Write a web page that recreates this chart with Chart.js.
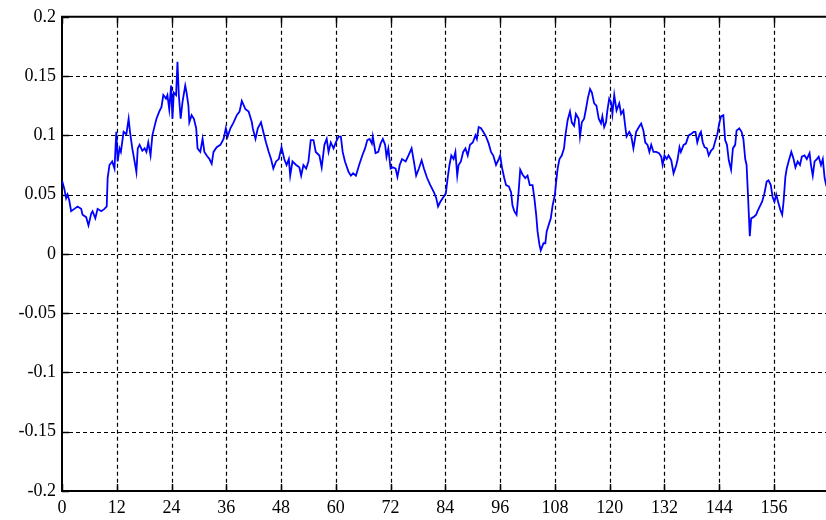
<!DOCTYPE html>
<html>
<head>
<meta charset="utf-8">
<script src="https://cdn.jsdelivr.net/npm/chart.js@4/dist/chart.umd.min.js"></script>
<style>
  html, body { margin: 0; padding: 0; background: #fff; }
  #wrap { width: 826px; height: 520px; }
</style>
</head>
<body>
<div id="wrap"><canvas id="c" width="826" height="520"></canvas></div>
<script>
// ---- data ----
const xTicks = [0, 12, 24, 36, 48, 60, 72, 84, 96, 108, 120, 132, 144, 156];
const yTicks = [-0.2, -0.15, -0.1, -0.05, 0, 0.05, 0.1, 0.15, 0.2];
const yTickLabels = ['-0.2', '-0.15', '-0.1', '-0.05', '0', '0.05', '0.1', '0.15', '0.2'];

const xs = [
  0, 0.5, 0.9, 1.2, 1.6, 2.0, 2.7, 3.4, 4.2, 4.5, 5.3, 5.8, 6.4, 6.7, 7.3, 7.8, 8.6, 9.3, 9.8,
  10.0, 10.4, 11.0, 11.5, 11.9, 12.2, 12.6, 12.9, 13.5, 14.1, 14.6, 14.9, 15.4, 15.9, 16.3, 16.6,
  17.0, 17.6, 18.1, 18.5, 18.9, 19.4, 19.8, 20.3, 20.7, 21.3, 21.8, 22.2, 22.8, 23.1, 23.5, 23.9,
  24.2, 24.5, 25.0, 25.3, 25.6, 26.0, 26.4, 27.0, 27.3, 27.7, 27.9, 28.4, 28.9, 29.4, 29.7, 30.3,
  30.8, 31.2, 31.7, 32.3, 32.8, 33.2, 33.9, 34.7, 35.4, 35.9, 36.3, 36.9, 37.6, 38.3, 38.9, 39.4,
  40.2, 40.9, 41.6, 41.8, 42.4, 42.9, 43.6, 44.1, 44.7, 45.3, 45.8, 46.3, 46.9, 47.5, 48.1, 48.7,
  49.2, 49.7, 50.0, 50.5, 51.3, 52.0, 52.4, 52.9, 53.5, 54.0, 54.5, 55.1, 55.6, 56.4, 56.9, 57.5,
  58.0, 58.4, 58.9, 59.5, 60.0, 60.6, 61.1, 61.5, 62.0, 62.8, 63.3, 63.8, 64.4, 65.1, 65.8, 66.4,
  66.9, 67.4, 67.9, 68.1, 68.7, 69.3, 69.8, 70.3, 70.8, 71.1, 71.5, 72.0, 72.5, 73.1, 73.5, 74.0,
  74.5, 75.3, 75.9, 76.6, 77.1, 77.6, 78.2, 78.8, 79.3, 80.0, 80.7, 81.5, 82.0, 82.4, 82.9, 83.4,
  84.1, 84.5, 84.9, 85.3, 85.8, 86.2, 86.6, 86.9, 87.4, 87.9, 88.4, 88.9, 89.4, 90.0, 90.6, 90.9,
  91.3, 91.8, 92.3, 92.9, 93.5, 94.0, 94.5, 95.1, 95.7, 96.0, 96.4, 96.9, 97.3, 97.9, 98.4, 98.7,
  99.1, 99.6, 100.0, 100.4, 100.9, 101.5, 102.0, 102.5, 103.1, 103.5, 103.9, 104.2, 104.6, 104.9,
  105.5, 105.9, 106.2, 106.6, 107.1, 107.5, 108.0, 108.2, 108.6, 109.0, 109.5, 110.0, 110.3, 110.8,
  111.3, 111.7, 112.2, 112.6, 113.2, 113.5, 113.9, 114.4, 114.8, 115.2, 115.7, 116.1, 116.6, 117.1,
  117.6, 118.1, 118.4, 118.8, 119.2, 119.5, 119.9, 120.3, 120.6, 121.0, 121.5, 122.1, 122.5, 123.0,
  123.4, 123.7, 124.3, 124.7, 125.2, 125.8, 126.4, 126.9, 127.4, 127.8, 128.3, 128.7, 129.1, 129.6,
  130.2, 130.8, 131.3, 131.6, 132.0, 132.5, 132.9, 133.5, 134.0, 134.6, 134.9, 135.3, 135.6, 136.2,
  136.7, 137.3, 137.8, 138.4, 138.8, 139.2, 139.7, 140.0, 140.4, 140.8, 141.3, 141.7, 142.2, 142.7,
  143.2, 143.6, 144.0, 144.4, 144.9, 145.3, 145.7, 146.1, 146.6, 147.0, 147.5, 147.8, 148.4, 148.9,
  149.3, 149.7, 150.0, 150.3, 150.7, 151.0, 151.5, 152.1, 152.4, 152.9, 153.4, 153.9, 154.4, 154.8,
  155.3, 155.7, 156.1, 156.5, 156.9, 157.4, 157.8, 158.1, 158.5, 158.8, 159.2, 159.8, 160.3, 160.7,
  161.2, 161.7, 162.1, 162.7, 163.2, 163.8, 164.1, 164.5, 164.9, 165.4, 165.8, 166.3, 166.7, 167.1,
  167.5
];
const ys = [
  0.062, 0.055, 0.047, 0.050, 0.045, 0.036, 0.038, 0.040, 0.038, 0.033, 0.031, 0.024, 0.034, 0.036, 0.030, 0.038, 0.036, 0.038, 0.040,
  0.064, 0.075, 0.078, 0.072, 0.103, 0.078, 0.089, 0.086, 0.103, 0.101, 0.114, 0.103, 0.089, 0.078, 0.069, 0.089,
  0.092, 0.087, 0.089, 0.086, 0.094, 0.083, 0.100, 0.108, 0.114, 0.120, 0.124, 0.134, 0.131, 0.134, 0.122, 0.142,
  0.114, 0.136, 0.134, 0.162, 0.134, 0.114, 0.128, 0.142, 0.136, 0.125, 0.111, 0.117, 0.114, 0.106, 0.089, 0.086,
  0.097, 0.086, 0.083, 0.080, 0.076, 0.086, 0.090, 0.092, 0.097, 0.106, 0.099, 0.106, 0.111, 0.117, 0.120, 0.129,
  0.122, 0.120, 0.111, 0.106, 0.097, 0.106, 0.111, 0.103, 0.094, 0.086, 0.080, 0.072, 0.078, 0.080, 0.090, 0.080,
  0.075, 0.080, 0.066, 0.078, 0.075, 0.073, 0.066, 0.075, 0.072, 0.078, 0.096, 0.096, 0.086, 0.083, 0.073, 0.092,
  0.097, 0.086, 0.094, 0.089, 0.094, 0.099, 0.099, 0.086, 0.078, 0.069, 0.066, 0.068, 0.066, 0.075, 0.083, 0.089,
  0.096, 0.097, 0.093, 0.099, 0.085, 0.086, 0.093, 0.097, 0.092, 0.082, 0.089, 0.072, 0.073, 0.072, 0.065, 0.075,
  0.080, 0.078, 0.083, 0.089, 0.078, 0.066, 0.072, 0.079, 0.072, 0.064, 0.058, 0.052, 0.047, 0.040, 0.044, 0.047,
  0.051, 0.064, 0.075, 0.083, 0.080, 0.086, 0.066, 0.075, 0.078, 0.086, 0.089, 0.083, 0.092, 0.094, 0.100, 0.097,
  0.107, 0.106, 0.103, 0.099, 0.093, 0.086, 0.083, 0.075, 0.080, 0.083, 0.073, 0.064, 0.058, 0.057, 0.052, 0.041,
  0.036, 0.033, 0.050, 0.071, 0.067, 0.064, 0.066, 0.058, 0.058, 0.047, 0.033, 0.019, 0.008, 0.003,
  0.009, 0.009, 0.019, 0.024, 0.030, 0.041, 0.050, 0.058, 0.072, 0.080, 0.083, 0.089, 0.100, 0.113,
  0.120, 0.111, 0.108, 0.118, 0.114, 0.099, 0.111, 0.114, 0.122, 0.131, 0.139, 0.136, 0.127, 0.125,
  0.114, 0.110, 0.116, 0.107, 0.111, 0.121, 0.131, 0.128, 0.118, 0.134, 0.121, 0.127, 0.118, 0.121,
  0.108, 0.099, 0.103, 0.100, 0.089, 0.103, 0.107, 0.110, 0.104, 0.094, 0.092, 0.086, 0.092, 0.086,
  0.086, 0.085, 0.082, 0.075, 0.083, 0.080, 0.083, 0.079, 0.068, 0.075, 0.080, 0.090, 0.086, 0.092,
  0.093, 0.100, 0.101, 0.103, 0.103, 0.094, 0.101, 0.103, 0.094, 0.090, 0.089, 0.083, 0.087, 0.089,
  0.096, 0.101, 0.110, 0.116, 0.117, 0.096, 0.092, 0.079, 0.071, 0.089, 0.092, 0.104, 0.106, 0.103,
  0.097, 0.080, 0.075, 0.050, 0.015, 0.030, 0.031, 0.033, 0.036, 0.040, 0.044, 0.051, 0.061, 0.062,
  0.058, 0.048, 0.044, 0.050, 0.044, 0.037, 0.033, 0.044, 0.065, 0.072, 0.078, 0.086, 0.080, 0.073,
  0.078, 0.075, 0.082, 0.083, 0.080, 0.085, 0.075, 0.066, 0.078, 0.080, 0.082, 0.075, 0.080, 0.064,
  0.057
];

const points = xs.map((x, i) => ({ x: x, y: ys[i] }));

const FONT = { family: '"Liberation Serif", "Times New Roman", serif', size: 18 };

const framePlugin = {
  id: 'frame',
  beforeDatasetsDraw(chart) {
    const ctx = chart.ctx;
    const a = chart.chartArea;
    const sx = chart.scales.x, sy = chart.scales.y;
    ctx.save();
    // dashed grid
    ctx.strokeStyle = '#000';
    ctx.lineWidth = 1.2;
    ctx.setLineDash([4, 3]);
    xTicks.forEach(v => {
      if (v === 0) return;
      const px = Math.round(sx.getPixelForValue(v)) + 0.5;
      ctx.beginPath(); ctx.moveTo(px, a.top); ctx.lineTo(px, a.bottom); ctx.stroke();
    });
    yTicks.forEach(v => {
      if (v === -0.2 || v === 0.2) return;
      const py = Math.round(sy.getPixelForValue(v)) + 0.5;
      ctx.beginPath(); ctx.moveTo(a.left, py); ctx.lineTo(a.right, py); ctx.stroke();
    });
    // solid frame and inner tick marks
    ctx.setLineDash([]);
    ctx.lineWidth = 2;
    ctx.beginPath();
    ctx.moveTo(a.right + 2, a.top); ctx.lineTo(a.left, a.top); ctx.lineTo(a.left, a.bottom); ctx.lineTo(a.right + 2, a.bottom);
    ctx.stroke();
    ctx.lineWidth = 1.5;
    xTicks.forEach(v => {
      const px = Math.round(sx.getPixelForValue(v)) + 0.5;
      ctx.beginPath(); ctx.moveTo(px, a.bottom); ctx.lineTo(px, a.bottom - 7); ctx.stroke();
      ctx.beginPath(); ctx.moveTo(px, a.top); ctx.lineTo(px, a.top + 7); ctx.stroke();
    });
    yTicks.forEach(v => {
      const py = Math.round(sy.getPixelForValue(v)) + 0.5;
      ctx.beginPath(); ctx.moveTo(a.left, py); ctx.lineTo(a.left + 7, py); ctx.stroke();
    });
    ctx.restore();
  }
};

new Chart(document.getElementById('c'), {
  type: 'line',
  data: {
    datasets: [{
      data: points,
      borderColor: '#0000ff',
      borderWidth: 1.8,
      pointRadius: 0,
      tension: 0,
      fill: false
    }]
  },
  options: {
    responsive: false,
    animation: false,
    parsing: true,
    layout: { padding: { top: 14, right: 0, left: 0, bottom: 0 } },
    plugins: { legend: { display: false }, tooltip: { enabled: false } },
    scales: {
      x: {
        type: 'linear',
        min: 0,
        max: 167.4,
        afterBuildTicks: s => { s.ticks = xTicks.map(v => ({ value: v })); },
        afterFit: s => { s.height = 29; },
        grid: { display: false, drawTicks: false },
        border: { display: false },
        ticks: { color: '#000', font: FONT, padding: 6, maxRotation: 0, autoSkip: false,
                 callback: v => String(v) }
      },
      y: {
        type: 'linear',
        min: -0.2,
        max: 0.2,
        afterBuildTicks: s => { s.ticks = yTicks.map(v => ({ value: v })); },
        afterFit: s => { s.width = 62; },
        grid: { display: false, drawTicks: false },
        border: { display: false },
        ticks: { color: '#000', font: FONT, padding: 6, autoSkip: false,
                 callback: (v, i) => yTickLabels[i] }
      }
    }
  },
  plugins: [framePlugin]
});
</script>
</body>
</html>
